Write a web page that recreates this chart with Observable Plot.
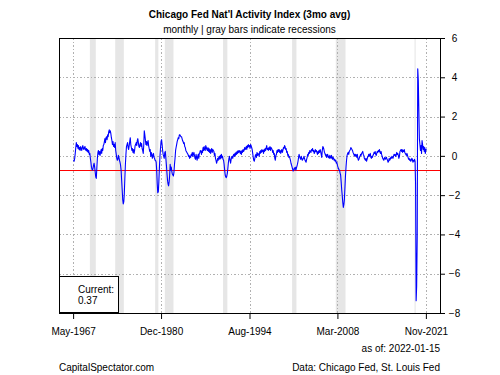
<!DOCTYPE html>
<html>
<head>
<meta charset="utf-8">
<script src="https://cdn.jsdelivr.net/npm/d3@7"></script>
<script src="https://cdn.jsdelivr.net/npm/@observablehq/plot@0.6"></script>
<style>
  html, body { margin: 0; padding: 0; background: #fff; }
  #wrap { position: relative; width: 500px; height: 375px; font-family: "Liberation Sans", Arial, sans-serif; color: #000; }
  #wrap svg { position: absolute; left: 0; top: 0; }
  .t { position: absolute; font-size: 10px; line-height: 10px; white-space: nowrap; }
  #legend { position: absolute; left: 59px; top: 276px; width: 60px; height: 37px; box-sizing: border-box; border: 1px solid #000; background: #fff; }
</style>
</head>
<body>
<div id="wrap"></div>
<script>
// ---- data ----
const titleText = "Chicago Fed Nat'l Activity Index (3mo avg)";
const subtitleText = "monthly | gray bars indicate recessions";
const asOfText = "as of: 2022-01-15";
const sourceLeft = "CapitalSpectator.com";
const sourceRight = "Data: Chicago Fed, St. Louis Fed";
const currentLabel = "Current:";
const currentValue = "0.37";

const firstMonth = "1967-05";
// CFNAI 3-month average, monthly from May 1967 to Nov 2021
const values = [
  -0.20, -0.25, -0.10, 0.15, 0.45, 0.70, 0.50, 0.60,
  0.40, 0.55, 0.35, 0.45, 0.30, 0.50, 0.40, 0.30, 0.45, 0.55, 0.40, 0.35,
  0.45, 0.50, 0.35, 0.30, 0.40, 0.25, 0.35, 0.20, 0.30, 0.10, 0.15, -0.10,
  -0.30, -0.55, -0.65, -0.70, -0.60, -0.45, -0.35, -0.55, -0.80, -1.05, -1.12, -0.60,
  -0.10, 0.20, 0.30, 0.10, 0.25, 0.05, 0.20, 0.35, 0.15, 0.40, 0.30, 0.55,
  0.60, 0.75, 0.90, 0.70, 0.95, 1.00, 0.85, 1.10, 1.00, 1.25, 1.35, 1.20,
  1.30, 1.15, 0.95, 0.80, 0.60, 0.75, 0.50, 0.60, 0.45, 0.70, 0.30, 0.10,
  -0.10, -0.20, -0.15, 0.05, -0.05, -0.20, -0.30, -0.45, -0.70, -1.20, -1.70, -2.20,
  -2.42, -2.30, -1.90, -1.10, -0.40, 0.10, 0.50, 0.60, 0.70, 0.45, 0.35, 0.55,
  0.75, 0.95, 0.60, 0.45, 0.30, 0.40, 0.20, 0.35, 0.15, 0.30, 0.55, 0.60,
  0.70, 0.55, 0.80, 0.90, 0.70, 0.50, 0.45, 0.60, 0.70, 0.50, 0.65, 0.40,
  0.30, 0.15, 0.55, 1.30, 1.10, 0.85, 0.60, 0.75, 0.55, 0.70, 0.80, 0.55,
  0.40, 0.25, 0.35, 0.00, 0.20, 0.10, -0.10, 0.05, 0.15, -0.05, -0.10, -0.20,
  -0.20, -0.30, -0.70, -1.40, -1.85, -1.80, -1.30, -0.60, 0.00, 0.40, 0.75, 0.85,
  0.60, 0.30, 0.10, 0.00, -0.10, 0.20, 0.25, -0.10, -0.45, -0.85, -1.20, -1.40,
  -1.50, -1.30, -1.00, -0.40, -0.70, -0.55, -0.75, -0.90, -0.95, -1.00, -0.80, -0.40,
  -0.10, 0.30, 0.45, 0.60, 0.75, 0.85, 0.95, 0.90, 1.10, 1.10, 1.05, 1.00,
  1.00, 0.90, 0.80, 0.75, 0.65, 0.70, 0.50, 0.45, 0.30, 0.25, 0.20, 0.15,
  0.10, 0.00, 0.05, -0.10, 0.00, -0.05, 0.10, 0.05, 0.20, 0.00, 0.10, 0.20,
  0.05, -0.10, -0.15, 0.10, -0.05, -0.20, 0.00, 0.10, -0.10, 0.15, 0.20, 0.30,
  0.25, 0.10, 0.30, 0.20, 0.45, 0.30, 0.50, 0.35, 0.30, 0.55, 0.45, 0.35,
  0.30, 0.45, 0.25, 0.40, 0.20, 0.35, 0.15, 0.30, 0.40, 0.20, 0.35, 0.30,
  0.25, 0.05, 0.15, -0.10, -0.20, -0.35, -0.25, -0.10, -0.20, -0.05, 0.00, -0.15,
  0.05, -0.10, 0.10, -0.05, 0.00, -0.15, -0.20, -0.40, -0.70, -0.95, -1.05, -1.08,
  -1.00, -0.85, -0.60, -0.30, -0.10, 0.00, -0.20, -0.35, -0.15, -0.05, 0.00, -0.10,
  0.05, 0.10, 0.00, 0.15, 0.05, 0.20, 0.10, 0.25, 0.15, 0.30, 0.20, 0.25,
  0.30, 0.15, 0.25, 0.10, 0.30, 0.20, 0.35, 0.25, 0.30, 0.45, 0.35, 0.40,
  0.50, 0.35, 0.55, 0.45, 0.60, 0.50, 0.55, 0.40, 0.60, 0.55, 0.45, 0.35,
  0.15, -0.05, -0.20, -0.25, -0.10, 0.05, 0.10, -0.05, 0.20, 0.05, 0.15, 0.10,
  0.00, 0.25, 0.15, 0.30, 0.20, 0.35, 0.25, 0.30, 0.15, 0.35, 0.25, 0.40,
  0.30, 0.45, 0.55, 0.35, 0.40, 0.30, 0.45, 0.35, 0.50, 0.30, 0.45, 0.40,
  0.35, 0.20, 0.30, 0.10, 0.15, -0.10, -0.20, 0.05, 0.10, 0.30, 0.20, 0.35,
  0.25, 0.35, 0.20, 0.30, 0.15, 0.25, 0.35, 0.20, 0.30, 0.45, 0.40, 0.55,
  0.50, 0.35, 0.40, 0.20, 0.25, 0.05, 0.10, -0.05, 0.00, -0.10, -0.20, -0.35,
  -0.45, -0.55, -0.65, -0.75, -0.70, -0.60, -0.65, -0.55, -0.70, -0.60, -0.50, -0.40,
  -0.25, -0.05, 0.10, 0.00, -0.10, -0.15, 0.00, -0.10, -0.20, -0.15, -0.10, 0.00,
  -0.10, -0.20, -0.25, -0.30, -0.15, -0.05, 0.10, 0.05, 0.20, 0.15, 0.30, 0.25,
  0.20, 0.35, 0.30, 0.40, 0.25, 0.30, 0.15, 0.20, 0.35, 0.25, 0.30, 0.20,
  0.10, 0.25, 0.15, 0.30, 0.20, 0.35, 0.25, 0.10, -0.05, 0.30, 0.50, 0.45,
  0.35, 0.20, 0.15, 0.05, 0.10, -0.05, 0.05, 0.10, -0.05, 0.00, -0.10, 0.05,
  -0.05, -0.10, 0.05, -0.05, -0.15, -0.05, -0.10, -0.20, -0.15, -0.25, -0.20, -0.35,
  -0.30, -0.45, -0.55, -0.60, -0.70, -0.70, -0.85, -0.95, -1.30, -1.70, -2.00, -2.35,
  -2.60, -2.45, -2.20, -1.60, -1.00, -0.55, -0.20, 0.05, 0.15, 0.20, 0.10, 0.25,
  0.30, 0.35, 0.45, 0.40, 0.35, 0.30, 0.20, 0.15, 0.05, 0.10, 0.00, 0.10,
  0.05, -0.05, 0.10, -0.10, -0.20, -0.15, -0.05, 0.00, 0.10, 0.05, 0.15, 0.20,
  0.25, 0.10, 0.05, -0.10, -0.15, -0.20, -0.10, -0.25, -0.15, -0.05, 0.00, 0.10,
  0.00, 0.10, 0.15, -0.05, -0.10, 0.00, -0.05, 0.05, 0.10, 0.20, 0.15, 0.25,
  0.10, 0.05, 0.15, 0.25, 0.20, 0.30, 0.25, 0.35, 0.20, 0.15, 0.25, 0.10,
  0.00, -0.10, -0.15, -0.20, -0.10, -0.05, -0.15, -0.10, -0.05, -0.15, -0.20, -0.30,
  -0.25, -0.10, -0.20, -0.15, -0.05, -0.10, 0.00, -0.05, -0.10, 0.00, 0.10, 0.05,
  0.10, 0.00, 0.05, 0.20, 0.10, 0.15, 0.05, -0.10, 0.00, 0.25, 0.30, 0.35,
  0.25, 0.35, 0.20, 0.30, 0.25, 0.35, 0.20, 0.15, 0.10, 0.05, 0.15, 0.05,
  -0.05, -0.15, -0.10, -0.20, -0.15, -0.25, -0.20, -0.10, -0.15, -0.30, -0.20, -0.25,
  -0.15, -0.25, -1.40, -7.35, -6.60, -4.10, 4.46, 3.87, 2.34, 0.90, 0.60, 0.30,
  0.55, 0.15, 0.80, 0.60, 0.35, 0.50, 0.25, 0.45, 0.15, 0.35, 0.37
];

const recessionStarts = ["1969-12", "1973-11", "1980-01", "1981-07", "1990-07", "2001-03", "2007-12", "2020-02"];
const recessionEnds   = ["1970-11", "1975-03", "1980-07", "1982-11", "1991-03", "2001-11", "2009-06", "2020-04"];

const xTickMonths = ["1967-05", "1980-12", "1994-08", "2008-03", "2021-11"];
const yTicks = [-8, -6, -4, -2, 0, 2, 4, 6];
const yDomain = [-8, 6];
const threshold = -0.7;

// ---- build ----
const parseMonth = d3.utcParse("%Y-%m");
const t0 = parseMonth(firstMonth);
const data = values.map((v, i) => ({
  date: new Date(Date.UTC(t0.getUTCFullYear(), t0.getUTCMonth() + i, 1)),
  value: v
}));
const recessions = recessionStarts.map((s, i) => ({start: parseMonth(s), end: parseMonth(recessionEnds[i])}));
const xTicks = xTickMonths.map(parseMonth);

const tFirst = +data[0].date, tLast = +data[data.length - 1].date;
const pad = (tLast - tFirst) * 0.04;

const gridStyle = {stroke: "#b0b0b0", strokeOpacity: 1, strokeDasharray: "1.5,2", shapeRendering: "crispEdges"};

const chart = Plot.plot({
  width: 500,
  height: 375,
  marginTop: 38,
  marginBottom: 62,
  marginLeft: 59,
  marginRight: 60,
  style: {fontFamily: "Liberation Sans, Arial, sans-serif", fontSize: "10px", color: "#000", background: "transparent"},
  x: {type: "utc", domain: [new Date(tFirst - pad), new Date(tLast + pad)], axis: null, label: null},
  y: {domain: yDomain, axis: null, label: null},
  marks: [
    Plot.rect(recessions, {x1: "start", x2: "end", fill: "#e6e6e6"}),
    Plot.gridX(xTicks, gridStyle),
    Plot.gridY(yTicks, gridStyle),
    Plot.ruleY([threshold], {stroke: "#ff0000", strokeWidth: 1, shapeRendering: "crispEdges"}),
    Plot.line(data, {x: "date", y: "value", stroke: "#0000ff", strokeWidth: 1.1}),
    Plot.frame({stroke: "#000", shapeRendering: "crispEdges"}),
    Plot.axisX(xTicks, {tickSize: 6, tickPadding: 8, tickFormat: d3.utcFormat("%b-%Y"), label: null}),
    Plot.axisY(yTicks, {anchor: "right", tickSize: 4, tickPadding: 10, textAnchor: "middle", label: null})
  ]
});

const wrap = document.getElementById("wrap");
wrap.appendChild(chart);

function addText(txt, css, bold) {
  const d = document.createElement("div");
  d.className = "t";
  d.textContent = txt;
  Object.assign(d.style, css);
  if (bold) d.style.fontWeight = "bold";
  wrap.appendChild(d);
  return d;
}
addText(titleText, {left: "0px", width: "499px", textAlign: "center", top: "10px"}, true);
addText(subtitleText, {left: "0px", width: "499px", textAlign: "center", top: "25px"});
addText(asOfText, {right: "60px", top: "344px"});
addText(sourceLeft, {left: "59px", top: "363px"});
addText(sourceRight, {right: "60px", top: "363px"});

const legend = document.createElement("div");
legend.id = "legend";
wrap.appendChild(legend);
addText(currentLabel, {left: "78px", top: "285px"});
addText(currentValue, {left: "78px", top: "296px"});
</script>
</body>
</html>
